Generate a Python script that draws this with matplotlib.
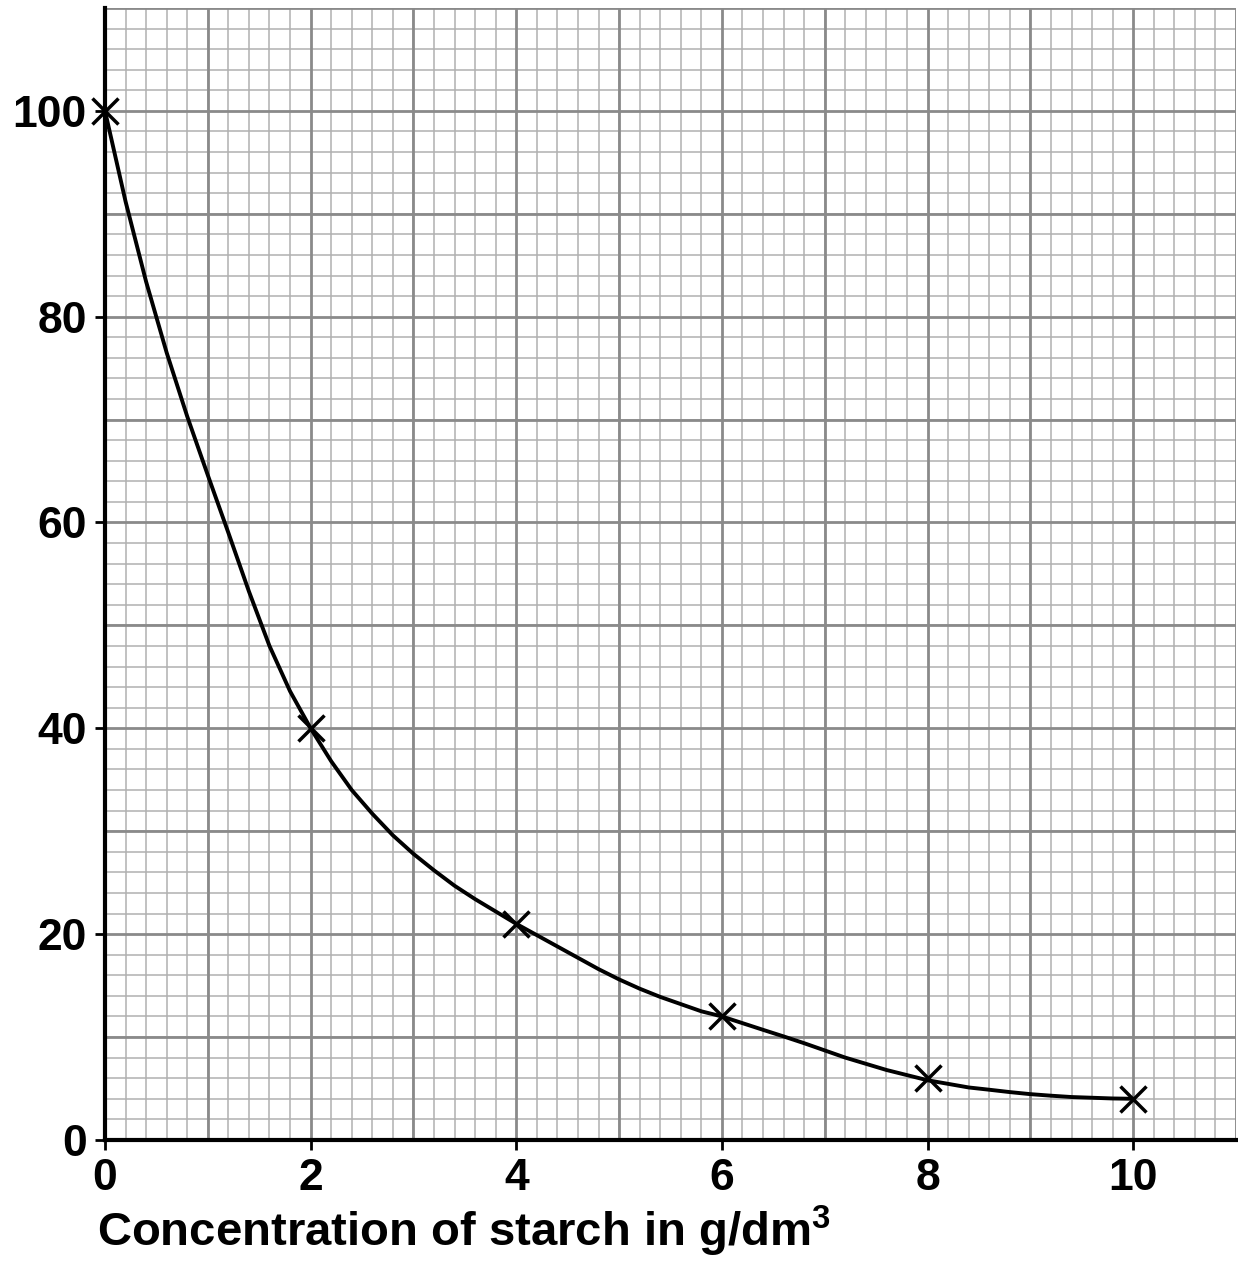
import numpy as np
import matplotlib
matplotlib.use("Agg")
from matplotlib import pyplot as plt
from matplotlib.ticker import MultipleLocator, FixedLocator

plt.rcParams['font.family'] = ['Liberation Sans', 'DejaVu Sans']
plt.rcParams['font.weight'] = 'bold'
plt.rcParams['mathtext.fontset'] = 'custom'
plt.rcParams['mathtext.bf'] = 'Liberation Sans:bold'
plt.rcParams['mathtext.default'] = 'bf'

# measured points (crosses)
conc = [0, 2, 4, 6, 8, 10]
value = [100, 40, 21, 12, 6, 4]

# hand-drawn curve, every 0.2 g/dm3
curve_x = [0, 0.2, 0.4, 0.6, 0.8, 1.0, 1.2, 1.4, 1.6, 1.8,
           2.0, 2.2, 2.4, 2.6, 2.8, 3.0, 3.2, 3.4, 3.6, 3.8,
           4.0, 4.2, 4.4, 4.6, 4.8, 5.0, 5.2, 5.4, 5.6, 5.8,
           6.0, 6.2, 6.4, 6.6, 6.8, 7.0, 7.2, 7.4, 7.6, 7.8,
           8.0, 8.2, 8.4, 8.6, 8.8, 9.0, 9.2, 9.4, 9.6, 9.8, 10.0]
curve_y = [100, 91.2, 83.4, 76.5, 70.3, 64.6, 59.0, 53.3, 48.0, 43.6,
           40, 36.8, 34.0, 31.7, 29.6, 27.8, 26.2, 24.7, 23.4, 22.2,
           21.0, 19.9, 18.8, 17.7, 16.6, 15.6, 14.7, 13.9, 13.2, 12.5,
           12.0, 11.35, 10.7, 10.06, 9.4, 8.7, 8.0, 7.4, 6.8, 6.3,
           5.8, 5.45, 5.1, 4.88, 4.65, 4.45, 4.3, 4.17, 4.1, 4.03, 4.0]

xticks = [0, 2, 4, 6, 8, 10]
yticks = [0, 20, 40, 60, 80, 100]

fig = plt.figure(figsize=(12.38, 12.61), dpi=100)
ax = fig.add_axes([0.0848, 0.096, 0.9136, 0.8977])

ax.set_xlim(0, 11)
ax.set_ylim(0, 110)

# graph paper: fine squares every 0.2 / 2, heavier lines every 1 / 10
ax.xaxis.set_major_locator(FixedLocator(xticks))
ax.yaxis.set_major_locator(FixedLocator(yticks))
ax.xaxis.set_minor_locator(MultipleLocator(0.2))
ax.yaxis.set_minor_locator(MultipleLocator(2))
ax.grid(which='minor', color='#b0b0b0', linewidth=1.1, zorder=0)
for gx in np.arange(1, 12):
    ax.axvline(gx, color='#8a8a8a', linewidth=2.0, zorder=1)
for gy in np.arange(10, 120, 10):
    ax.axhline(gy, color='#8a8a8a', linewidth=2.0, zorder=1)
ax.set_axisbelow(True)

ax.plot(curve_x, curve_y, color='black', linewidth=2.8, solid_capstyle='round',
        solid_joinstyle='round', zorder=3)
ax.plot(conc, value, linestyle='none', marker='x', markersize=19,
        markeredgewidth=2.5, color='black', zorder=4, clip_on=False)

ax.tick_params(which='minor', length=0)
ax.tick_params(which='major', length=7, width=2, direction='out',
               labelsize=32, pad=6, color='black')
for lab in ax.get_xticklabels() + ax.get_yticklabels():
    lab.set_fontweight('bold')

for s in ['top', 'right']:
    ax.spines[s].set_visible(False)
for s in ['left', 'bottom']:
    ax.spines[s].set_linewidth(3)
    ax.spines[s].set_zorder(5)

fig.text(97 / 1238, 1 - 1246 / 1261, r'Concentration of starch in g/dm$^{3}$',
         fontsize=34, fontweight='bold', ha='left', va='baseline')

fig.savefig('out.png', dpi=100)
